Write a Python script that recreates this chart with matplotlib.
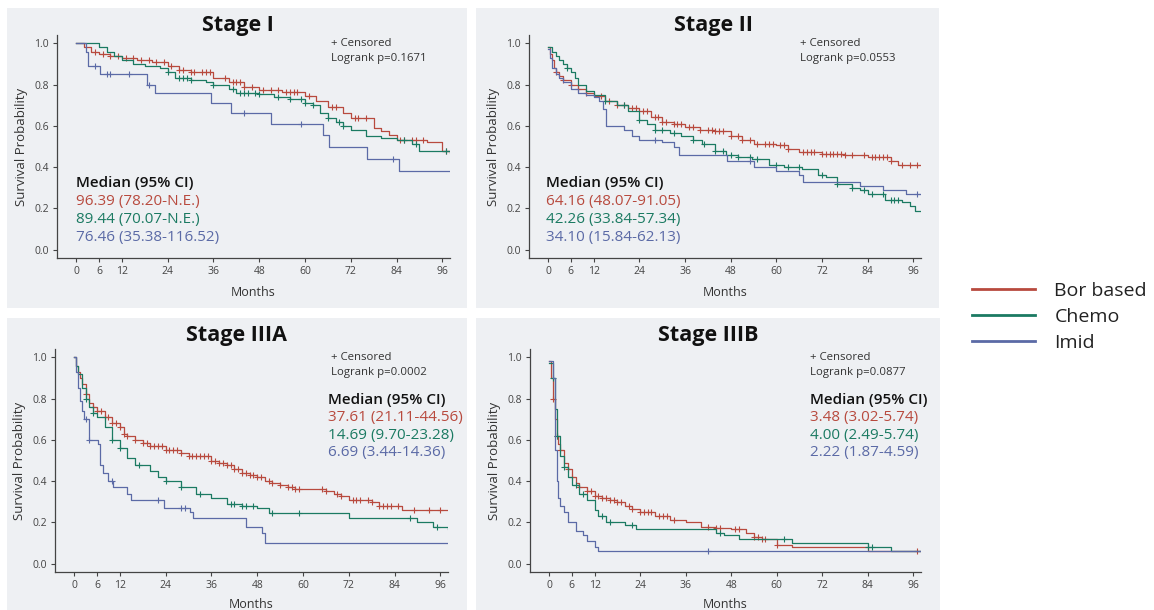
import numpy as np
import matplotlib
matplotlib.use("Agg")
import matplotlib.pyplot as plt
from matplotlib.patches import Rectangle
from matplotlib.lines import Line2D

plt.rcParams["font.family"] = ["Open Sans", "DejaVu Sans"]

W, H = 1154, 610

series_names = ["Bor based", "Chemo", "Imid"]
colors = ["#b84a3e", "#1b7a62", "#5b6aa6"]

stages = ["Stage I", "Stage II", "Stage IIIA", "Stage IIIB"]
logrank = ["Logrank p=0.1671", "Logrank p=0.0553", "Logrank p=0.0002", "Logrank p=0.0877"]
medians = [
    ["96.39 (78.20-N.E.)", "89.44 (70.07-N.E.)", "76.46 (35.38-116.52)"],
    ["64.16 (48.07-91.05)", "42.26 (33.84-57.34)", "34.10 (15.84-62.13)"],
    ["37.61 (21.11-44.56)", "14.69 (9.70-23.28)", "6.69 (3.44-14.36)"],
    ["3.48 (3.02-5.74)", "4.00 (2.49-5.74)", "2.22 (1.87-4.59)"],
]

xticks = [0, 6, 12, 24, 36, 48, 60, 72, 84, 96]
yticks = [0.0, 0.2, 0.4, 0.6, 0.8, 1.0]

# ---- Stage I ----
s1_bor_t = [0, 2, 4, 6, 9, 12, 16, 20, 24, 27, 30, 36, 40, 44, 48, 54, 60, 63, 66, 70, 72, 78, 80, 82, 84, 92, 96, 98]
s1_bor_s = [1.0, 0.98, 0.96, 0.95, 0.94, 0.93, 0.92, 0.91, 0.89, 0.87, 0.86, 0.83, 0.81, 0.79, 0.775, 0.765, 0.745,
            0.72, 0.69, 0.66, 0.64, 0.59, 0.575, 0.555, 0.53, 0.52, 0.48, 0.47]
s1_bor_c = [5, 7, 9, 11, 13, 15, 17, 19, 21, 23, 25, 27, 28, 30, 31, 33, 34, 35, 39, 41, 42, 43, 44, 46, 49, 51, 53,
            55, 56, 57, 58, 61, 67, 68, 73, 74, 76, 85, 86, 88, 89, 91, 97]
s1_che_t = [0, 6, 8, 10, 12, 15, 18, 22, 24, 26, 30, 34, 36, 40, 42, 48, 52, 56, 60, 62, 64, 66, 68, 70, 72, 76, 80,
            84, 88, 90, 98]
s1_che_s = [1.0, 0.98, 0.96, 0.94, 0.92, 0.90, 0.89, 0.88, 0.86, 0.83, 0.82, 0.81, 0.80, 0.78, 0.76, 0.755, 0.74, 0.73,
            0.71, 0.70, 0.66, 0.64, 0.62, 0.60, 0.58, 0.55, 0.54, 0.53, 0.51, 0.48, 0.48]
s1_che_c = [24, 27, 28, 29, 30, 36, 41, 43, 44, 45, 47, 48, 53, 56, 59, 60, 62, 66, 69, 70, 86, 89, 97]
s1_imi_t = [0, 2.6, 3.2, 6.3, 18.6, 20.6, 35.3, 40.5, 51, 64.6, 66.4, 76.2, 84.6, 98]
s1_imi_s = [1.0, 0.96, 0.89, 0.85, 0.80, 0.76, 0.71, 0.66, 0.61, 0.555, 0.50, 0.44, 0.38, 0.38]
s1_imi_c = [5, 8, 9, 14, 19, 44, 59, 83]

# ---- Stage II ----
s2_bor_t = [0, 0.5, 1, 1.5, 2, 3, 4, 6, 8, 10, 12, 15, 18, 21, 24, 27, 30, 33, 36, 40, 44, 48, 51, 54, 60, 63, 66,
            72, 78, 84, 88, 90, 92, 98]
s2_bor_s = [0.98, 0.95, 0.92, 0.88, 0.86, 0.84, 0.82, 0.80, 0.78, 0.76, 0.745, 0.72, 0.70, 0.685, 0.67, 0.645, 0.62,
            0.61, 0.595, 0.58, 0.575, 0.55, 0.53, 0.51, 0.505, 0.49, 0.475, 0.465, 0.46, 0.45, 0.45, 0.43, 0.41, 0.41]
s2_bor_c = [2, 4, 6, 8, 10, 14, 16, 18, 20, 22, 23, 25, 26, 28, 29, 30, 31, 33, 34, 35, 37, 38, 40, 42, 43, 44, 45,
            46, 48, 50, 51, 53, 55, 57, 58, 59, 61, 62, 63, 67, 68, 69, 70, 72, 73, 74, 75, 76, 77, 78, 80, 83, 85,
            86, 87, 88, 89, 90, 93, 95, 97]
s2_che_t = [0, 1, 2, 3, 4, 5, 6, 7, 8, 10, 12, 15, 18, 21, 24, 26, 28, 32, 35, 38, 40.5, 44, 46.7, 50, 53.7, 58, 62,
            66.8, 71, 73, 76, 80, 82, 84, 88.6, 93, 95, 96.4, 98]
s2_che_s = [0.98, 0.96, 0.94, 0.92, 0.90, 0.88, 0.86, 0.83, 0.80, 0.77, 0.75, 0.72, 0.70, 0.67, 0.63, 0.61, 0.58,
            0.565, 0.55, 0.53, 0.51, 0.48, 0.46, 0.45, 0.44, 0.41, 0.40, 0.39, 0.36, 0.35, 0.32, 0.30, 0.29, 0.27,
            0.24, 0.23, 0.21, 0.19, 0.19]
s2_che_c = [5, 15, 20, 24, 28, 30, 33, 38, 41, 44, 46, 48, 50, 53, 55, 60, 63, 66, 72, 76, 80, 83, 85, 88, 90, 91, 92]
s2_imi_t = [0, 0.5, 1, 2, 3, 4, 6, 8, 10, 12, 13.5, 14.5, 15.3, 20, 22, 24, 30, 33, 34.5, 47, 54, 60, 66, 67, 82, 88,
            94, 98]
s2_imi_s = [0.97, 0.93, 0.88, 0.85, 0.83, 0.81, 0.78, 0.76, 0.75, 0.74, 0.72, 0.68, 0.60, 0.58, 0.55, 0.53, 0.52,
            0.50, 0.46, 0.43, 0.40, 0.38, 0.36, 0.33, 0.31, 0.29, 0.27, 0.27]
s2_imi_c = [28, 53, 97]

# ---- Stage IIIA ----
s3_bor_t = [0, 0.5, 1, 1.5, 2, 3, 4, 5, 6, 8, 10, 12, 13, 14, 16, 18, 20, 24, 28, 30, 36, 38, 40, 42, 44, 46, 48, 50,
            52, 54, 56, 58, 60, 66, 68, 70, 72, 78, 80, 86, 98]
s3_bor_s = [1.0, 0.96, 0.93, 0.90, 0.87, 0.82, 0.78, 0.76, 0.74, 0.71, 0.68, 0.66, 0.63, 0.62, 0.60, 0.585, 0.57,
            0.55, 0.535, 0.52, 0.50, 0.49, 0.48, 0.46, 0.44, 0.43, 0.42, 0.40, 0.39, 0.38, 0.37, 0.36, 0.36, 0.35,
            0.34, 0.33, 0.31, 0.30, 0.28, 0.26, 0.26]
s3_bor_c = [3, 5, 6, 7, 8, 9, 10, 11, 12, 13, 14, 16, 18, 19, 20, 21, 22, 23, 24, 25, 26, 27, 28, 30, 31, 32, 33, 34,
            35, 36, 37, 38, 39, 40, 41, 42, 43, 44, 45, 46, 47, 48, 49, 51, 52, 54, 56, 57, 58, 59, 65, 66, 69, 70,
            73, 74, 75, 77, 78, 80, 81, 82, 83, 85, 89, 93, 96]
s3_che_t = [0, 0.5, 1, 2, 3, 4, 5, 6, 8, 10, 12, 14, 16, 20, 22, 24, 28, 32, 36, 40, 44, 48, 51, 72, 90, 94, 98]
s3_che_s = [1.0, 0.96, 0.92, 0.85, 0.80, 0.76, 0.73, 0.71, 0.66, 0.60, 0.56, 0.51, 0.48, 0.45, 0.42, 0.40, 0.37, 0.34,
            0.32, 0.29, 0.28, 0.27, 0.245, 0.22, 0.20, 0.18, 0.17]
s3_che_c = [3, 5, 10, 12, 17, 24, 28, 33, 41, 42, 44, 45, 47, 52, 59, 88, 95]
s3_imi_t = [0, 0.5, 1, 1.5, 2, 2.5, 3.8, 6.3, 6.8, 7.6, 9, 10.2, 14, 15, 23.5, 30.4, 31.2, 45, 49.2, 50, 98]
s3_imi_s = [1.0, 0.93, 0.85, 0.79, 0.74, 0.70, 0.60, 0.58, 0.48, 0.44, 0.40, 0.37, 0.34, 0.31, 0.27, 0.25, 0.22,
            0.18, 0.15, 0.10, 0.10]
s3_imi_c = [3, 4, 10, 22, 28, 29]

# ---- Stage IIIB ----
s4_bor_t = [0, 0.5, 1, 1.5, 2, 2.5, 3, 4, 5, 6, 7, 8, 10, 12, 14, 16, 18, 20, 22, 24, 28, 32, 36, 40, 44, 48, 52, 54,
            56, 60, 64, 84, 98]
s4_bor_s = [0.98, 0.90, 0.80, 0.70, 0.62, 0.58, 0.55, 0.49, 0.46, 0.42, 0.39, 0.37, 0.35, 0.33, 0.32, 0.31, 0.30, 0.28,
            0.265, 0.25, 0.23, 0.21, 0.20, 0.18, 0.175, 0.17, 0.15, 0.13, 0.12, 0.09, 0.08, 0.06, 0.06]
s4_bor_c = [1, 2, 3, 5, 6, 8, 10, 11, 12, 13, 14, 15, 16, 17, 18, 19, 21, 22, 24, 25, 26, 27, 29, 30, 31, 33, 42, 44,
            45, 49, 50, 54, 55, 56, 57, 60, 97]
s4_che_t = [0, 1, 1.5, 2, 3, 4, 5, 6, 8, 10, 12, 13, 15, 20, 23, 44, 46, 50, 64, 84, 90, 98]
s4_che_s = [0.97, 0.90, 0.75, 0.62, 0.52, 0.47, 0.42, 0.38, 0.34, 0.31, 0.26, 0.23, 0.20, 0.19, 0.17, 0.15, 0.14, 0.12,
            0.10, 0.08, 0.06, 0.06]
s4_che_c = [1, 2, 4, 7, 9, 14, 16, 22, 45, 62, 84, 85]
s4_imi_t = [0, 1, 1.5, 2, 2.5, 3, 4, 5, 7, 9, 10, 12, 13, 98]
s4_imi_s = [0.98, 0.90, 0.55, 0.40, 0.32, 0.28, 0.25, 0.20, 0.16, 0.14, 0.11, 0.08, 0.06, 0.06]
s4_imi_c = [42]

curves = [
    [(s1_bor_t, s1_bor_s, s1_bor_c), (s1_che_t, s1_che_s, s1_che_c), (s1_imi_t, s1_imi_s, s1_imi_c)],
    [(s2_bor_t, s2_bor_s, s2_bor_c), (s2_che_t, s2_che_s, s2_che_c), (s2_imi_t, s2_imi_s, s2_imi_c)],
    [(s3_bor_t, s3_bor_s, s3_bor_c), (s3_che_t, s3_che_s, s3_che_c), (s3_imi_t, s3_imi_s, s3_imi_c)],
    [(s4_bor_t, s4_bor_s, s4_bor_c), (s4_che_t, s4_che_s, s4_che_c), (s4_imi_t, s4_imi_s, s4_imi_c)],
]


def px(x, y):
    return x / W, 1 - y / H


fig = plt.figure(figsize=(W / 100, H / 100), dpi=100)
fig.patch.set_facecolor("white")

bg = "#eef0f3"
txt = "#333333"
# panel boxes (x0, y0, x1, y1) in pixels
panels = [(7, 8, 467, 308), (476, 8, 939, 308), (7, 318, 467, 612), (476, 318, 940, 612)]
# axes boxes: spine-left, top, right, bottom (pixels)
axboxes = [(57, 35, 450, 258), (529, 35, 921, 258), (55, 349, 448, 572), (530, 349, 921, 572)]
title_xy = [(238, 25), (713, 25), (237, 336), (708, 336)]
cens_xy = [(331, 44), (800, 44), (331, 358), (810, 358)]
med_xy = [(76, 183), (546, 183), (328, 400), (810, 400)]
med_dy = [18, 18, 17.5, 17.5]
xlab_pad = [6, 6, 5, 5]

for i in range(4):
    x0, y0, x1, y1 = panels[i]
    fig.patches.append(Rectangle(px(x0, y1), (x1 - x0) / W, (y1 - y0) / H, transform=fig.transFigure,
                                 facecolor=bg, edgecolor="none", zorder=-5))
    l, t, r, b = axboxes[i]
    ax = fig.add_axes([l / W, 1 - b / H, (r - l) / W, (b - t) / H])
    ax.set_facecolor("none")
    for (tt, ss, cc), col in zip(curves[i], colors):
        tt = np.asarray(tt)
        ss = np.asarray(ss)
        ax.step(tt, ss, where="post", color=col, lw=0.9)
        idx = np.searchsorted(tt, cc, side="right") - 1
        ax.plot(cc, ss[idx], "+", color=col, ms=4, mew=0.8, ls="none")
    ax.set_xlim(-5, 98)
    ax.set_ylim(-0.04, 1.04)
    ax.set_xticks(xticks)
    ax.set_yticks(yticks)
    ax.set_yticklabels([f"{v:.1f}" for v in yticks])
    for s in ["top", "right"]:
        ax.spines[s].set_visible(False)
    for s in ["left", "bottom"]:
        ax.spines[s].set_color("#444444")
        ax.spines[s].set_linewidth(0.9)
    ax.tick_params(labelsize=7.5, colors="#444444", length=3, width=0.8, pad=3)
    ax.set_xlabel("Months", fontsize=9, color=txt, labelpad=xlab_pad[i])
    ax.set_ylabel("Survival Probability", fontsize=9.5, color=txt, labelpad=4)

    fig.text(*px(*title_xy[i]), stages[i], fontsize=15.5, fontweight="bold", ha="center", va="center",
             color="#111111")
    cx, cy = cens_xy[i]
    fig.text(*px(cx, cy), "+ Censored", fontsize=8.2, ha="left", va="center", color=txt)
    fig.text(*px(cx, cy + 14), logrank[i], fontsize=8.2, ha="left", va="center", color=txt)
    mx, my = med_xy[i]
    fig.text(*px(mx, my), "Median (95% CI)", fontsize=11, fontweight="semibold", ha="left", va="center",
             color="#111111")
    for k in range(3):
        fig.text(*px(mx, my + med_dy[i] * (k + 1)), medians[i][k], fontsize=11, ha="left", va="center",
                 color=colors[k])

handles = [Line2D([], [], color=c, lw=2) for c in colors]
fig.legend(handles, series_names, loc="upper left", bbox_to_anchor=px(964, 274), frameon=False,
           borderaxespad=0, fontsize=14, handlelength=3.25, handletextpad=1.0, labelspacing=0.42,
           labelcolor="#222222")

fig.savefig("out.png", dpi=100)
